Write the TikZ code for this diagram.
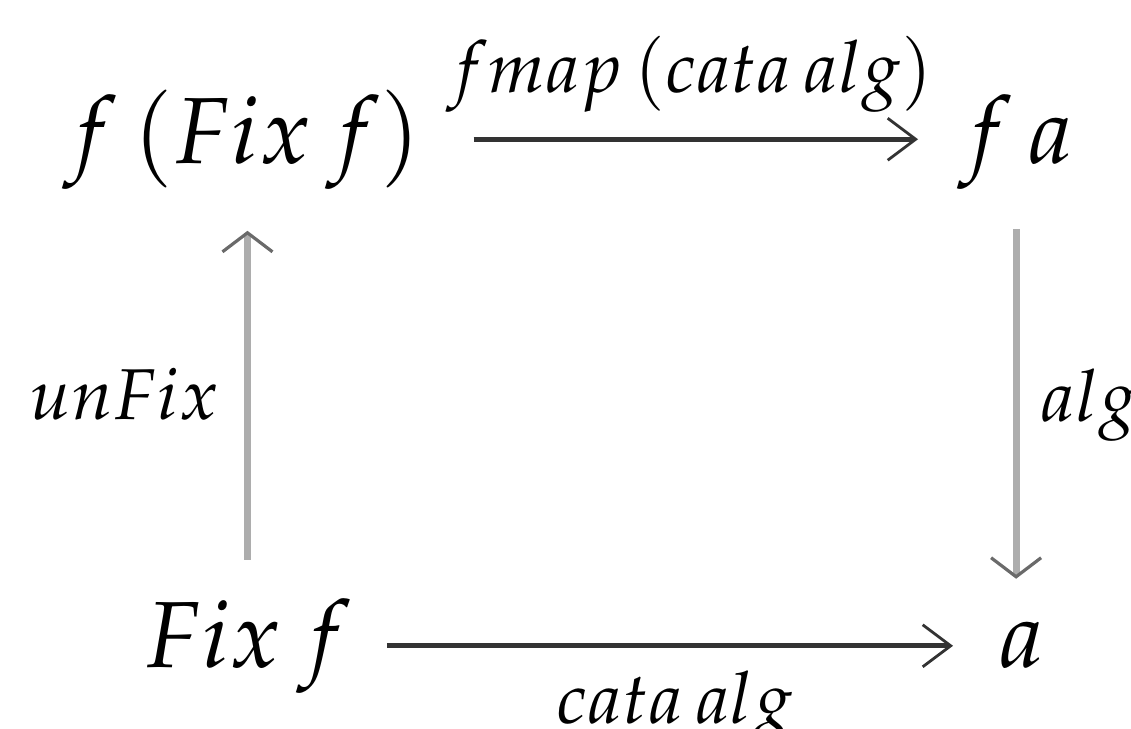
\documentclass[tikz,border=0pt]{standalone}
\usepackage{mathpazo}
\usetikzlibrary{arrows.meta}
\definecolor{hline}{HTML}{333333}
\definecolor{vline}{HTML}{ADADAD}
\definecolor{vtip}{HTML}{6A6A6A}
\begin{document}
\begin{tikzpicture}[x=0.25pt,y=-0.25pt,
  obj/.style={inner sep=0pt, font=\fontsize{23.5}{28}\selectfont},
  lbl/.style={inner sep=0pt, font=\fontsize{18}{22}\selectfont},
  harrow/.style={draw=hline, line width=1.25pt, -{Straight Barb[length=7pt,width=10.5pt,line width=0.7pt]}},
  varrow/.style={draw=vline, line width=1.75pt, -{Straight Barb[length=4.75pt,width=12.5pt,line width=0.8pt,color=vtip]}}]
\useasboundingbox (0,0) rectangle (1131,728);
\node[obj, anchor=base west] (A) at (63,163) {$f\,(Fix\,f)$};
\node[obj, anchor=base west] (B) at (958,163) {$f\,a$};
\node[obj, anchor=base west] (C) at (143,667) {$Fix\,f$};
\node[obj, anchor=base west] (D) at (998,667) {$a$};
\draw[harrow, shorten <=13pt, shorten >=10pt] (A.east) -- (A.east -| B.west)
  node[midway, above=6pt, lbl] {$fmap\,(cata\,alg)$};
\draw[harrow, shorten <=8.75pt, shorten >=11.25pt] (C.east) -- (C.east -| D.west)
  node[midway, below=5.75pt, lbl] {$cata\,alg$};
\draw[varrow, shorten <=9.5pt, shorten >=10.25pt] (C.north) -- (C.north |- A.south)
  node[midway, left=6.25pt, lbl] {$unFix$};
\draw[varrow, shorten <=9.75pt, shorten >=10.5pt] (B.south) -- (B.south |- D.north)
  node[midway, right=5.25pt, lbl] {$alg$};
\end{tikzpicture}
\end{document}
